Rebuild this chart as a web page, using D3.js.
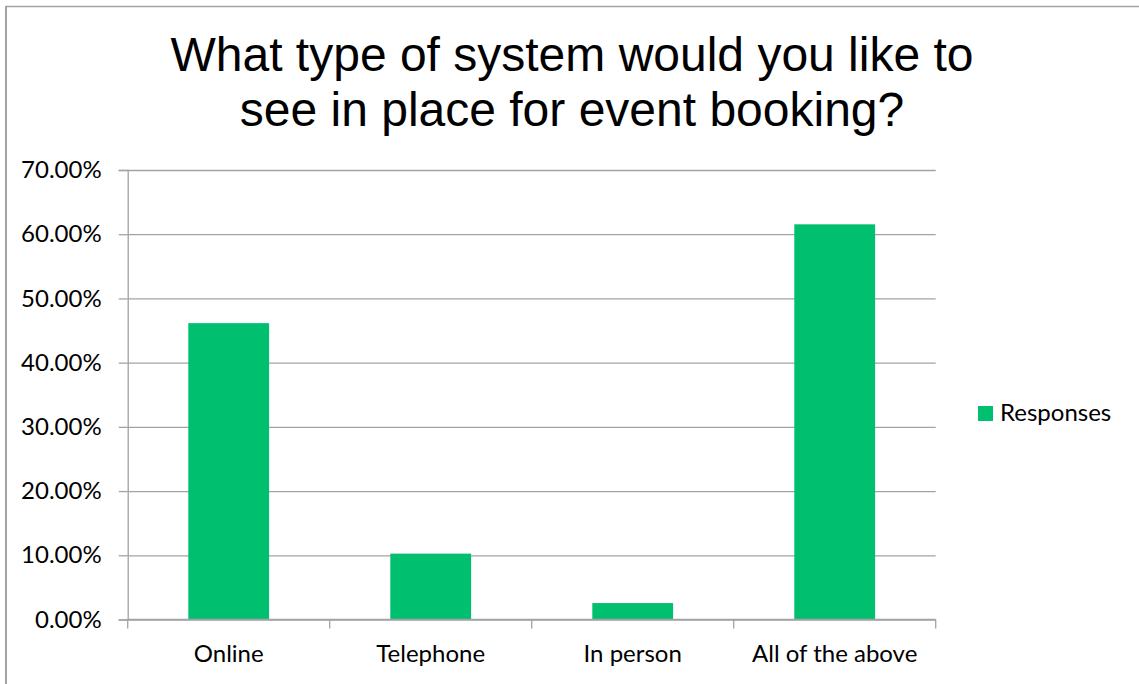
<!DOCTYPE html>
<html>
<head>
<meta charset="utf-8">
<script src="https://cdn.jsdelivr.net/npm/d3@7"></script>
<style>
  html, body { margin: 0; padding: 0; background: #fff; }
  svg { display: block; }
</style>
</head>
<body>
<svg id="chart" width="1139" height="684"></svg>
<script>
// Survey answers: share of respondents choosing each booking system
const categories = ["Online", "Telephone", "In person", "All of the above"];
const responses = [0.4615, 0.1026, 0.0256, 0.6154];
const yTicks = [0, 0.1, 0.2, 0.3, 0.4, 0.5, 0.6, 0.7];
const titleLines = ["What type of system would you like to", "see in place for event booking?"];
const seriesName = "Responses";

const W = 1139, H = 684;
const plot = { left: 127.7, right: 935.7, top: 170, bottom: 619.5 };
const barColor = "#00bf6f";
const lineColor = "#a3a3a3";
const labelFont = "Lato, 'Open Sans', sans-serif";
const labelSize = 24;

const svg = d3.select("#chart");

// chart frame (top and left edges visible)
svg.append("line").attr("x1", 6).attr("x2", W).attr("y1", 6.5).attr("y2", 6.5)
  .attr("stroke", lineColor).attr("stroke-width", 1.5);
svg.append("line").attr("x1", 6).attr("x2", 6).attr("y1", 6).attr("y2", H)
  .attr("stroke", lineColor).attr("stroke-width", 2);

// title
const title = svg.append("text")
  .attr("text-anchor", "middle")
  .attr("font-family", "'Liberation Sans', Arial, sans-serif")
  .attr("font-size", 48)
  .attr("fill", "#000");
titleLines.forEach((t, i) => {
  title.append("tspan").attr("x", 572).attr("y", 71 + i * 55).text(t);
});

const x = d3.scaleBand().domain(categories).range([plot.left, plot.right]).paddingInner(0).paddingOuter(0);
const y = d3.scaleLinear().domain([0, 0.7]).range([plot.bottom, plot.top]);

// horizontal gridlines
const grid = svg.append("g")
  .attr("transform", `translate(${plot.left},0)`)
  .call(d3.axisLeft(y).tickValues(yTicks).tickSize(-(plot.right - plot.left)).tickFormat(""));
grid.select(".domain").remove();
grid.selectAll("line").attr("stroke", lineColor).attr("stroke-width", 1.3);

// y axis with outward tick marks and percentage labels
const yAxis = svg.append("g")
  .attr("transform", `translate(${plot.left},0)`)
  .call(d3.axisLeft(y).tickValues(yTicks).tickSize(9).tickPadding(17).tickFormat(d3.format(".2%")));
yAxis.select(".domain").attr("stroke", lineColor).attr("stroke-width", 1.3);
yAxis.selectAll(".tick line").attr("stroke", lineColor).attr("stroke-width", 1.3);
yAxis.selectAll(".tick text")
  .attr("font-family", labelFont).attr("font-size", labelSize).attr("fill", "#000");

// bars: Excel-style gap width of 150%
const barW = x.bandwidth() / 2.5;
svg.append("g").selectAll("rect")
  .data(categories.map((c, i) => ({ c, v: responses[i] })))
  .join("rect")
  .attr("x", d => x(d.c) + (x.bandwidth() - barW) / 2)
  .attr("width", barW)
  .attr("y", d => y(d.v))
  .attr("height", d => y(0) - y(d.v))
  .attr("fill", barColor);

// x axis line with ticks between categories
const xAxis = svg.append("g");
xAxis.append("line")
  .attr("x1", plot.left).attr("x2", plot.right)
  .attr("y1", y(0)).attr("y2", y(0))
  .attr("stroke", lineColor).attr("stroke-width", 1.3);
const boundaries = categories.map(c => x(c)).concat([x(categories[categories.length - 1]) + x.bandwidth()]);
xAxis.selectAll("line.tick").data(boundaries).join("line")
  .attr("class", "tick")
  .attr("x1", d => d).attr("x2", d => d)
  .attr("y1", y(0)).attr("y2", y(0) + 9)
  .attr("stroke", lineColor).attr("stroke-width", 1.3);
xAxis.selectAll("text").data(categories).join("text")
  .attr("x", d => x(d) + x.bandwidth() / 2)
  .attr("y", 662)
  .attr("text-anchor", "middle")
  .attr("font-family", labelFont).attr("font-size", labelSize).attr("fill", "#000")
  .text(d => d);

// legend
const legend = svg.append("g");
legend.append("rect").attr("x", 978).attr("y", 406).attr("width", 15).attr("height", 15).attr("fill", barColor);
legend.append("text").attr("x", 1000).attr("y", 421)
  .attr("font-family", labelFont).attr("font-size", labelSize).attr("fill", "#000")
  .text(seriesName);
</script>
</body>
</html>
